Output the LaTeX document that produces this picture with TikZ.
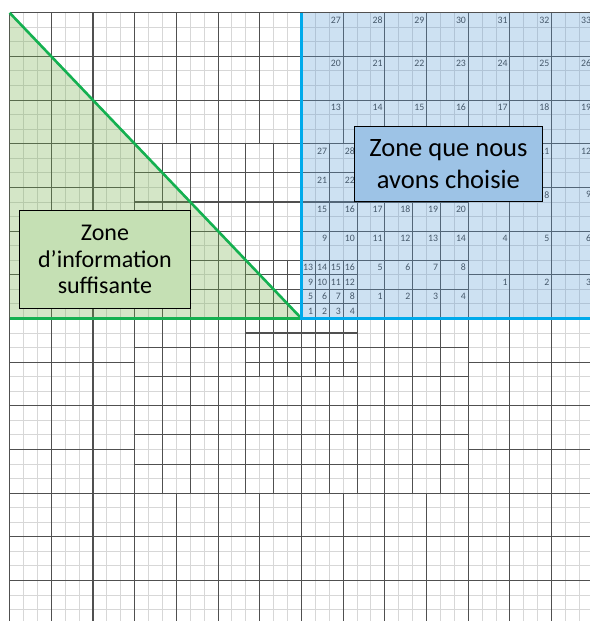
\documentclass[tikz,border=0pt]{standalone}
\usepackage{fontspec}
\setmainfont{Carlito}
\definecolor{lightgridc}{RGB}{215,215,215}
\definecolor{darkgridc}{RGB}{80,80,80}
\definecolor{numc}{RGB}{60,60,60}
\definecolor{greenfill}{RGB}{112,173,71}
\definecolor{bluefill}{RGB}{91,155,213}
\definecolor{greenline}{RGB}{20,176,80}
\definecolor{blueline}{RGB}{0,170,235}
\definecolor{greenbox}{RGB}{197,224,180}
\definecolor{bluebox}{RGB}{157,195,230}
\tikzset{
  lg/.style={draw=lightgridc, line width=1pt},
  dk/.style={draw=darkgridc, line width=1.1pt},
  num/.style={anchor=east, inner sep=0pt, text=numc, font=\fontsize{9.8}{10}\selectfont},
  zonebox/.style={draw=black, line width=0.9pt, align=center, inner sep=0pt},
}
\newcommand\quadlines{%
  \foreach \v in {1,2,3} {\draw[dk] (\v,0) -- (\v,4); \draw[dk] (0,\v) -- (4,\v);}
  \draw[dk] (4,0) -- (4,12);
  \foreach \v in {6,8,10} {\draw[dk] (\v,0) -- (\v,12); \draw[dk] (0,\v) -- (12,\v);}
  \draw[dk] (4,2) -- (12,2);
  \draw[dk] (2,4) -- (2,12);
  \draw[dk] (0,4) -- (12,4);
  \draw[dk] (12,0) -- (12,21);
  \draw[dk] (0,12) -- (21,12);
  \foreach \v in {15,18,21} {\draw[dk] (\v,0) -- (\v,21); \draw[dk] (0,\v) -- (21,\v);}
  \foreach \v in {3,6,9} {\draw[dk] (12,\v) -- (21,\v); \draw[dk] (\v,12) -- (\v,21);}
  \draw[dk] (0,0) -- (0,21);
  \draw[dk] (0,0) -- (21,0);
}
\begin{document}
\begin{tikzpicture}[x=13.9pt,y=14.56pt]
\useasboundingbox (-21.69,-20.78) rectangle (20.76,21.875);
\begin{scope}
\clip (-21.69,-20.78) rectangle (20.76,21.875);
% light grid
\foreach \i in {-21,...,21} {
  \draw[lg] (\i,-21) -- (\i,21);
  \draw[lg] (-21,\i) -- (21,\i);
}
% dark grid in four quadrants
\begin{scope}\quadlines\end{scope}
\begin{scope}[xscale=-1]\quadlines\end{scope}
\begin{scope}[yscale=-1]\quadlines\end{scope}
\begin{scope}[xscale=-1,yscale=-1]\quadlines\end{scope}
% numbers
\foreach \k in {0,...,15} {
  \pgfmathtruncatemacro\c{mod(\k,4)}
  \pgfmathtruncatemacro\r{div(\k,4)}
  \pgfmathtruncatemacro\n{\k+1}
  \node[num] (a\n) at (\c+0.85,\r+0.5) {\n};
}
\foreach \k in {0,...,7} {
  \pgfmathtruncatemacro\c{mod(\k,4)}
  \pgfmathtruncatemacro\r{div(\k,4)}
  \pgfmathtruncatemacro\n{\k+1}
  \node[num] (b\n) at (6+2*\c-0.15,2*\r+1.5) {\n};
}
\foreach \k in {0,...,13,18,19} {
  \pgfmathtruncatemacro\c{mod(\k,6)}
  \pgfmathtruncatemacro\r{div(\k,6)}
  \pgfmathtruncatemacro\n{\k+9}
  \node[num] (b\n) at (2+2*\c-0.15,4+2*\r+1.5) {\n};
}
\foreach \k in {0,...,5,7,8,10,11} {
  \pgfmathtruncatemacro\c{mod(\k,3)}
  \pgfmathtruncatemacro\r{div(\k,3)}
  \pgfmathtruncatemacro\n{\k+1}
  \node[num] (c\n) at (15+3*\c-0.15,3*\r+2.5) {\n};
}
\foreach \k in {0,...,20} {
  \pgfmathtruncatemacro\c{mod(\k,7)}
  \pgfmathtruncatemacro\r{div(\k,7)}
  \pgfmathtruncatemacro\n{\k+13}
  \node[num] (c\n) at (3+3*\c-0.15,12+3*\r+2.5) {\n};
}
% zone fills
\fill[greenfill, fill opacity=0.3] (-21,21) -- (0,0) -- (-21,0) -- cycle;
\fill[bluefill, fill opacity=0.3] (0,0) rectangle (21,21);
% zone borders
\coordinate (gtl) at (-21,21);
\coordinate (gbl) at (-21,0);
\coordinate (o) at (0,0);
\coordinate (btop) at (0,21);
\coordinate (bright) at (21,0);
\draw[greenline, line width=2.6pt] (gtl) -- (o);
\draw[greenline, line width=2.6pt] (gbl) -- (o);
\draw[blueline, line width=2.6pt] (btop) -- (o) -- (bright);
\end{scope}
% labels
\node[zonebox, fill=greenbox, minimum width=12.37*13.9pt, minimum height=6.70*14.56pt,
      font=\fontsize{24}{26.7}\selectfont] (zinfo) at (-14.14,4.05)
      {Zone\\d’information\\suffisante};
\node[zonebox, fill=bluebox, minimum width=13.55*13.9pt, minimum height=5.20*14.56pt,
      font=\fontsize{26.5}{31.7}\selectfont] (zchoix) at (10.575,10.62)
      {Zone que nous\\avons choisie};
\end{tikzpicture}
\end{document}
